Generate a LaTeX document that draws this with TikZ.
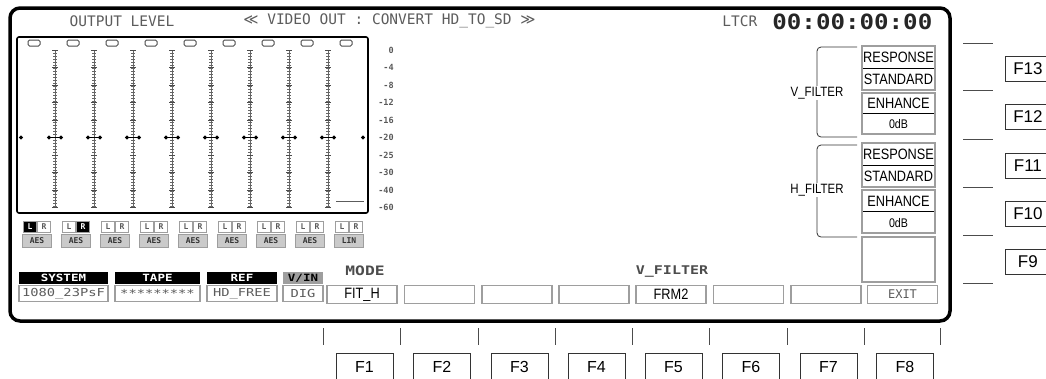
\documentclass[tikz,border=0pt]{standalone}
\usepackage{fontspec}
\setmainfont{Liberation Sans}
\newfontfamily\narrowfont[FakeStretch=0.85]{Liberation Sans}
\newfontfamily\lcdfont{DejaVu Sans Mono}
\newfontfamily\lcdwidefont[FakeStretch=1.25]{DejaVu Sans Mono}
\newfontfamily\tcodefont[FakeStretch=1.15]{DejaVu Sans Mono}
\newfontfamily\symfont{DejaVu Sans}
\usetikzlibrary{calc}
\usetikzlibrary{positioning}
\definecolor{lcdgray}{gray}{0.36}
\definecolor{keygray}{gray}{0.62}

\begin{document}
\begin{tikzpicture}[x=1pt, y=-1pt, black!80, line width=0.75pt,
    lcd/.style={font=\lcdfont\fontsize{14.5}{15}\selectfont, text=lcdgray, inner sep=0pt},
    lcdtiny/.style={font=\lcdfont\bfseries\fontsize{8.5}{8.5}\selectfont, text=black!65, inner sep=0pt},
    lcdwide/.style={font=\lcdwidefont\fontsize{#1}{#1}\selectfont, text=lcdgray, inner sep=0pt},
    softkey/.style={draw=keygray, line width=1.6pt, fill=white, minimum width=70pt, minimum height=18pt, inner sep=0pt, font=\narrowfont\fontsize{15}{15}\selectfont, text=black},
    fkey/.style={draw=black!80, line width=0.8pt, minimum height=28pt, inner sep=0pt, font=\fontsize{16}{16}\selectfont, text=black},
    paneltext/.style={font=\narrowfont\fontsize{#1}{#1}\selectfont, text=black, inner sep=0pt},
    chanbox/.style={draw=keygray, line width=1pt, minimum width=13pt, minimum height=11pt, inner sep=0pt, font=\lcdfont\bfseries\fontsize{8}{8}\selectfont},
    headbox/.style={minimum height=12pt, inner sep=0pt, font=\lcdwidefont\bfseries\fontsize{10}{10}\selectfont},
    valuebox/.style={draw=keygray, line width=1.2pt, fill=white, text=lcdgray, minimum height=16pt, inner sep=0pt, font=\lcdwidefont\fontsize{11}{11}\selectfont},
    bracket/.style={rounded corners=4pt, line width=0.8pt},
]

\useasboundingbox[clip] (0,0) rectangle (1046,378);

% screen frame
\draw[black, line width=3.5pt, rounded corners=10pt] (10,8) rectangle (950,321);

\node[lcd] (outlvl) at (122,21) {OUTPUT LEVEL};
\node[lcd, anchor=west] (vidout) at (243,21) {{\symfont ≪} VIDEO OUT : CONVERT HD\_TO\_SD {\symfont ≫}};
\node[lcd, anchor=west] (ltcr) at (722,21) {LTCR};
\node[anchor=west, inner sep=0pt, text=black!85, font=\tcodefont\bfseries\fontsize{21}{21}\selectfont] (tcode) at (772,22) {00:00:00:00};

% level meters
\draw[black, line width=1.6pt, rounded corners=2pt] (17,37) rectangle (368,213);

\foreach \k in {0,...,8}{
    \pgfmathsetmacro{\px}{34+39*\k}
    \draw[black!70, line width=1pt, rounded corners=1.5pt] (\px-6,40) rectangle (\px+6,46);
}

\foreach \k in {0,...,7}{
    \pgfmathsetmacro{\cx}{55+39*\k}
    \draw[black!60, line width=0.5pt] (\cx,50) -- (\cx,207);
    \draw[black!60, line width=3.5pt, dash pattern=on 0.8pt off 2.2pt] (\cx,50) -- (\cx,207);
    \foreach \yy in {50,67.5,85,102.5,120,155,172.5,190,207.5}
        \draw[black!70, line width=1pt] (\cx-3,\yy) -- (\cx+3,\yy);
    \draw[black, line width=1pt] (\cx-7,137.5) -- (\cx+7,137.5);
    \foreach \s in {-6,6}
        \fill[black] (\cx+\s,137.5) +(-2.2,0) -- +(0,-2.2) -- +(2.2,0) -- +(0,2.2) -- cycle;
}
\foreach \dx in {21,363}
    \fill[black] (\dx,137.5) +(-2.2,0) -- +(0,-2.2) -- +(2.2,0) -- +(0,2.2) -- cycle;
\draw[lcdgray, line width=1pt] (336,201) -- (364,201);

\foreach \lv/\yy [count=\i] in {0/50, -4/67.5, -8/85, -12/102.5, -16/120,
                                -20/137.5, -25/155, -30/172.5, -40/190, -60/207.5}
    \node[lcdtiny, anchor=east] (lvl\i) at (394,\yy) {\lv};

% channel sources
\foreach \k/\lf/\lt/\rf/\rt/\src in {0/black/white/white/lcdgray/AES,
                                     1/white/lcdgray/black/white/AES,
                                     2/white/lcdgray/white/lcdgray/AES,
                                     3/white/lcdgray/white/lcdgray/AES,
                                     4/white/lcdgray/white/lcdgray/AES,
                                     5/white/lcdgray/white/lcdgray/AES,
                                     6/white/lcdgray/white/lcdgray/AES,
                                     7/white/lcdgray/white/lcdgray/AES,
                                     8/white/lcdgray/white/lcdgray/LIN}{
    \pgfmathsetmacro{\cx}{37+39*\k}
    \node[chanbox, fill=\lf, text=\lt] (chl\k) at (\cx-7,226.5) {L};
    \node[chanbox, fill=\rf, text=\rt] (chr\k) at (\cx+7,226.5) {R};
    \node[chanbox, fill=keygray!55, text=black!80, minimum width=29pt, minimum height=13pt] (chs\k) at (\cx,240.5) {\src};
}

% status line
\foreach \nm/\xa/\xb/\hd/\vl/\hf/\hc in {sys/19/108/SYSTEM/1080\_23PsF/black/white,
                                       tape/115/200/TAPE/*********/black/white,
                                       ref/207/277/REF/HD\_FREE/black/white,
                                       vin/283/323/{V/IN}/DIG/keygray/black}{
    \node[headbox, fill=\hf, text=\hc, minimum width={\xb-\xa}] (\nm hd) at ({(\xa+\xb)/2},278) {\hd};
    \node[valuebox, minimum width={\xb-\xa}] (\nm val) at ({(\xa+\xb)/2},293.5) {\vl};
}

% soft keys
\node[lcdwide=13, text=black!70] (modelbl) at (365,271) {\bfseries MODE};
\node[lcdwide=12, text=black!70] (vfltlbl) at (672,272) {\bfseries V\_FILTER};

\foreach \k/\xm/\lab in {1/362/FIT\_H, 2/439.5/{}, 3/517/{}, 4/594/{}, 5/671/FRM2,
                         6/748.5/{}, 7/826/{},
                         8/902.5/{\lcdfont\fontsize{12}{12}\selectfont\color{lcdgray}EXIT}}
    \node[softkey] (sk\k) at (\xm,294.5) {\lab};

% filter keys
\foreach \nm/\yt/\yb/\txa/\txb/\sz in {vresp/46/90/RESPONSE/STANDARD/15,
                                       venh/93/134/ENHANCE/0dB/12.5,
                                       hresp/143/187/RESPONSE/STANDARD/15,
                                       henh/190/233/ENHANCE/0dB/12.5}{
    \draw[keygray, line width=1.8pt] (862,\yt) rectangle (935,\yb);
    \draw[black, line width=0.8pt] (863,{(\yt+\yb)/2}) -- (934,{(\yt+\yb)/2});
    \node[paneltext=15] (\nm a) at (898.5,{(3*\yt+\yb)/4+0.5}) {\txa};
    \node[paneltext=\sz] (\nm b) at (898.5,{(\yt+3*\yb)/4+0.5}) {\txb};
}
\node[draw=keygray, line width=1.8pt, minimum width=73pt, minimum height=45pt, inner sep=0pt] (blankkey) at (898.5,259.5) {};

\draw[bracket] (857,47) -- (817,47) -- (817,137) -- (857,137);
\node[paneltext=13.5, fill=white, inner sep=1pt] (vflt) at (817,93) {V\_FILTER};
\draw[bracket] (857,145) -- (817,145) -- (817,237) -- (857,237);
\node[paneltext=13.5, fill=white, inner sep=1pt] (hflt) at (817,190) {H\_FILTER};

% function keys
\foreach \ly in {43,90,139,187,235,283}
    \draw[black!70] (963,\ly) -- (993,\ly);
\foreach \n/\yy in {13/69, 12/117, 11/166, 10/214, 9/262}
    \node[fkey, minimum width=45pt, minimum height=25pt, font=\fontsize{17}{17}\selectfont, anchor=west] (fk\n) at (1005,\yy) {F\n};

\foreach \tx in {323,400,478,555,632,709,787,864,940}
    \draw[black!70] (\tx,328) -- (\tx,345);
\foreach \k/\xm in {1/361.5, 2/439, 3/516.5, 4/593.5, 5/670.5, 6/748, 7/825.5, 8/902}
    \node[fkey, minimum width=57pt, anchor=north] (fk\k) at (\xm+3,353) {F\k};

\end{tikzpicture}
\end{document}
